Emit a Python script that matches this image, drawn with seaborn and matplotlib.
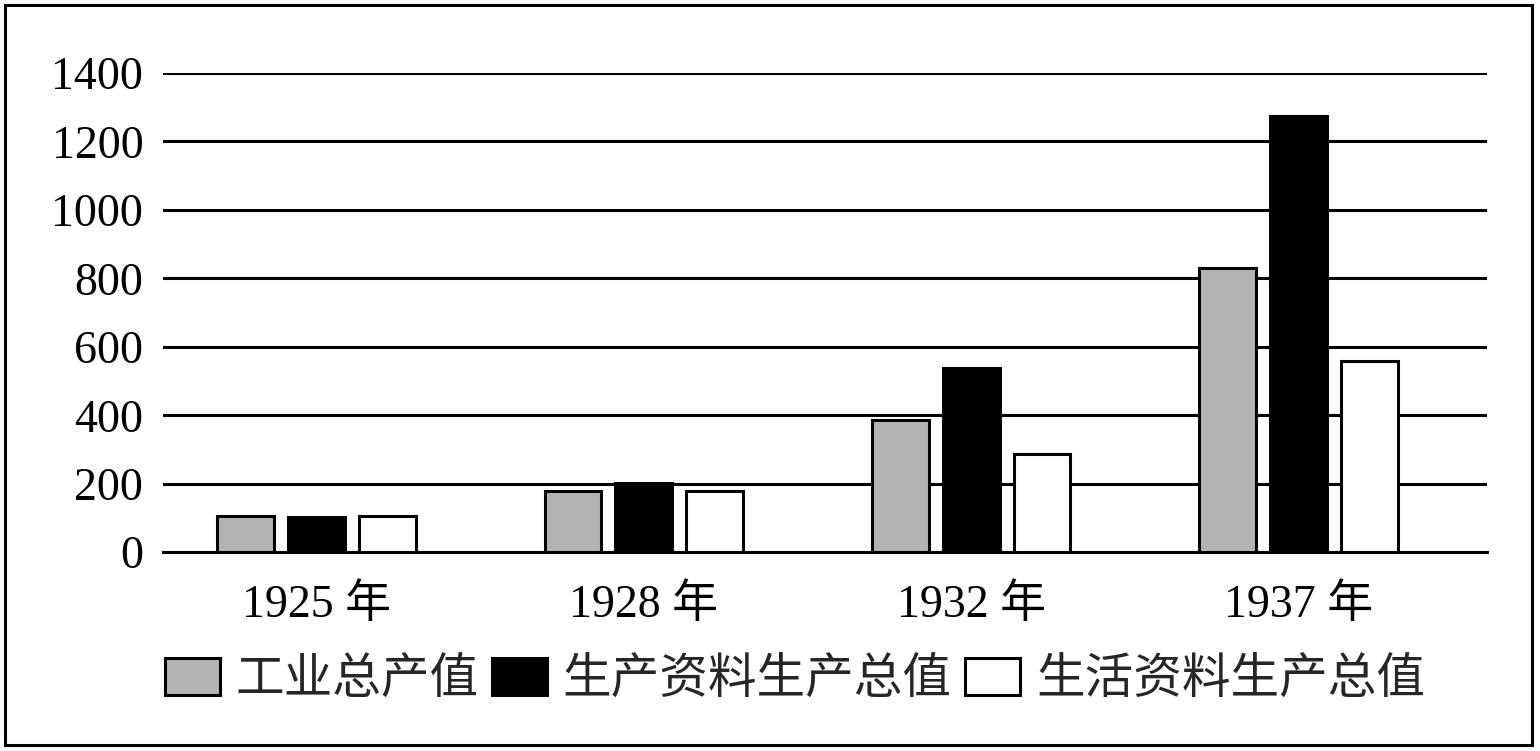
import matplotlib
matplotlib.use("Agg")
import matplotlib.pyplot as plt
import seaborn as sns
import pandas as pd
from matplotlib.patches import Patch, Rectangle

years = ["1925 年", "1928 年", "1932 年", "1937 年"]
series = ["工业总产值", "生产资料生产总值", "生活资料生产总值"]
industry_total = [107, 179, 385, 831]
means_of_production = [102, 201, 538, 1274]
consumer_goods = [107, 179, 287, 559]
colors = ["#b3b3b3", "#000000", "#ffffff"]
y_ticks = [0, 200, 400, 600, 800, 1000, 1200, 1400]

df = pd.DataFrame({
    "year": years * 3,
    "series": [series[0]] * 4 + [series[1]] * 4 + [series[2]] * 4,
    "value": industry_total + means_of_production + consumer_goods,
})

sns.set_theme(style="white")
plt.rcParams["font.family"] = ["Liberation Serif", "Noto Sans CJK SC"]

W, H = 1540, 751
fig = plt.figure(figsize=(W / 100, H / 100), dpi=100)
ax = fig.add_axes([162.7 / W, 1 - 552.2 / H, (1487 - 162.7) / W, (552.2 - 73) / H])

sns.barplot(data=df, x="year", y="value", hue="series", order=years, hue_order=series,
            palette=colors, width=0.65, gap=0.2, edgecolor="black", linewidth=2.2,
            saturation=1, ax=ax, legend=False, zorder=3)

ax.set_ylim(0, 1400)
ax.set_xlim(-0.47, 3.576)
ax.set_yticks(y_ticks)
ax.set_yticklabels([str(v) for v in y_ticks])
ax.yaxis.grid(True, color="black", linewidth=2.2, zorder=0)
ax.set_axisbelow(True)
for s in ["top", "right", "left"]:
    ax.spines[s].set_visible(False)
ax.spines["bottom"].set_color("black")
ax.spines["bottom"].set_linewidth(2.2)
ax.tick_params(axis="both", length=0, labelsize=33, colors="black")
ax.tick_params(axis="y", pad=14)
ax.tick_params(axis="x", pad=23)
ax.set_xlabel("")
ax.set_ylabel("")

handles = [Patch(facecolor=c, edgecolor="black", linewidth=2.2) for c in colors]
fig.legend(handles, series, loc="center", bbox_to_anchor=(795 / W, 1 - 680 / H),
           ncol=3, frameon=False, prop={"family": ["Noto Sans CJK SC"], "size": 35},
           handlelength=1.13, handleheight=0.8, handletextpad=0.32, columnspacing=0.28,
           borderaxespad=0, borderpad=0)

fig.add_artist(Rectangle((5 / W, 6 / H), 1527 / W, 740 / H, transform=fig.transFigure,
                         fill=False, edgecolor="black", linewidth=2.2))

fig.savefig("out.png", dpi=100, facecolor="white")
